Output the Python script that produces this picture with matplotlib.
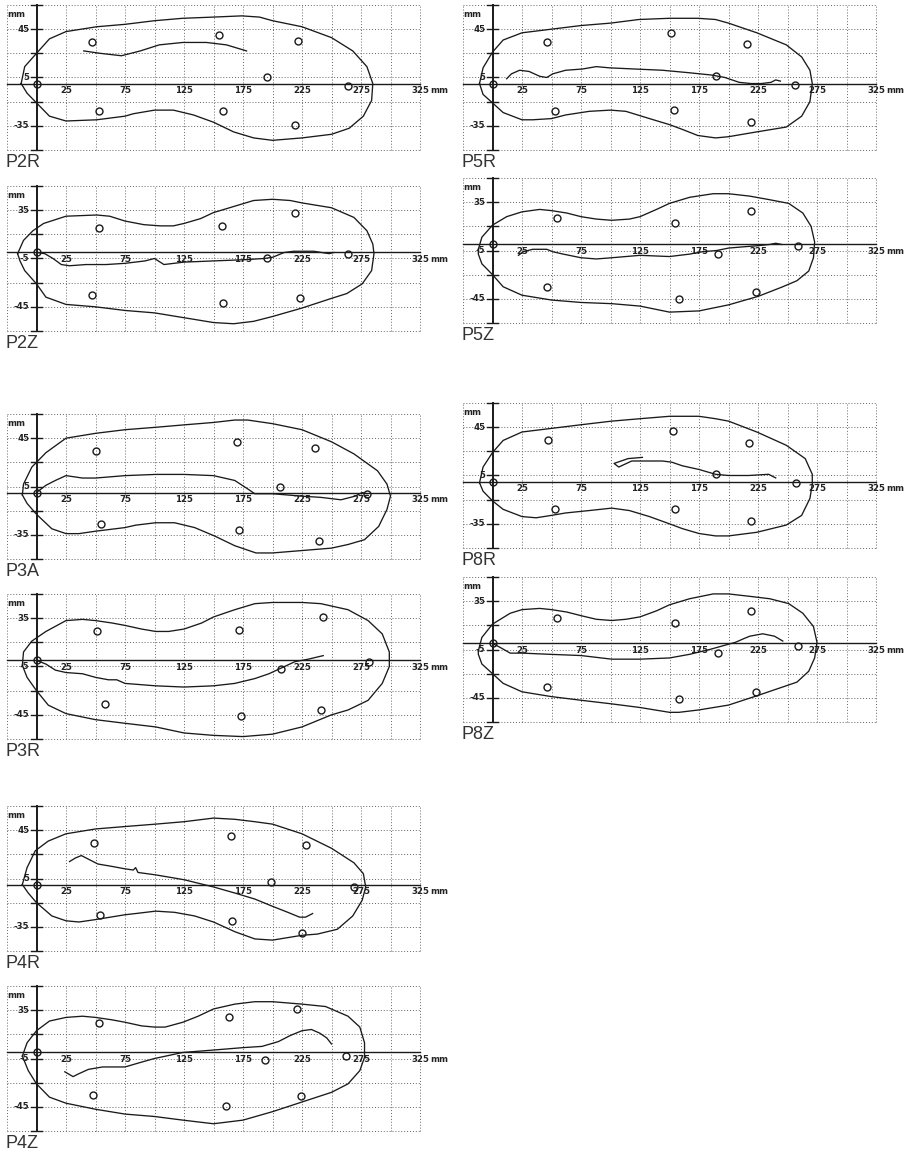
import matplotlib
matplotlib.use('Agg')
import matplotlib.pyplot as plt

W, H = 914, 1151

# ---------------- data (mm) ----------------
X_TICKS = [25, 75, 125, 175, 225, 275, 325]
R_YTICKS = [45, 5, -35]
Z_YTICKS = [35, -5, -45]
R_YGRID = [65, 45, 25, 5, -15, -35, -55]
Z_YGRID = [55, 35, 15, -5, -25, -45, -65]

# P2R
P2R_OUT_X = [-13, -10, 0, 11, 25, 51, 75, 100, 124, 150, 174, 189, 200, 225, 250, 268, 280, 285, 284, 277, 265, 250, 225, 200, 184, 167, 150, 133, 116, 100, 82, 75, 51, 25, 11, 0, -8, -13]
P2R_OUT_Y = [0, 14, 25, 37, 43, 47, 49, 52, 54, 55, 56, 55, 52, 47, 38, 27, 14, 0, -14, -27, -37, -42, -45, -47, -45, -40, -32, -26, -22, -22, -25, -27, -30, -31, -27, -16, -8, 0]
P2R_COP_X = [40, 54, 72, 88, 104, 124, 144, 161, 178]
P2R_COP_Y = [27, 25, 23, 27, 32, 34, 34, 32, 27]
P2R_SEN_X = [0, 47, 155, 222, 195, 264, 53, 158, 219]
P2R_SEN_Y = [0, 34, 40, 35, 5, -2, -23, -23, -34]

# P2Z
P2Z_OUT_X = [-16, -11, -3, 6, 25, 51, 62, 75, 91, 105, 116, 125, 139, 150, 167, 184, 200, 215, 225, 250, 269, 280, 285, 286, 284, 276, 263, 250, 225, 200, 184, 167, 150, 125, 100, 75, 50, 25, 8, 0, -10, -14, -16]
P2Z_OUT_Y = [-1, 10, 18, 24, 30, 31, 30, 26, 23, 22, 22, 24, 28, 33, 38, 43, 44, 43, 41, 37, 29, 18, 7, -1, -15, -26, -34, -38, -46, -53, -57, -59, -58, -54, -50, -48, -45, -43, -37, -26, -15, -7, -1]
P2Z_COP_X = [0, 7, 14, 21, 28, 42, 59, 75, 92, 100, 108, 125, 150, 176, 193, 200, 210, 218, 235, 248, 252]
P2Z_COP_Y = [0, -1, -5, -10, -11, -10, -10, -9, -7, -5, -10, -8, -7, -6, -5, -4, 0, 1, 1, -1, 0]
P2Z_SEN_X = [0, 53, 157, 219, 195, 264, 47, 158, 223]
P2Z_SEN_Y = [0, 20, 22, 33, -5, -1, -35, -42, -38]

# P3A
P3A_OUT_X = [-12, -11, -4, 8, 25, 50, 75, 101, 125, 150, 168, 179, 200, 225, 250, 269, 289, 297, 300, 297, 290, 278, 264, 250, 225, 200, 186, 168, 151, 134, 117, 101, 84, 75, 50, 36, 25, 13, 0, -8, -12]
P3A_OUT_Y = [-2, 7, 21, 33, 45, 49, 52, 54, 56, 58, 60, 60, 57, 52, 42, 32, 18, 7, -3, -14, -28, -39, -43, -46, -48, -50, -50, -44, -36, -29, -25, -25, -27, -29, -32, -34, -34, -30, -18, -9, -2]
P3A_COP_X = [0, 8, 16, 25, 39, 50, 75, 101, 125, 150, 168, 179, 185, 200, 225, 241, 258, 270, 276, 280]
P3A_COP_Y = [0, 6, 10, 14, 12, 12, 14, 15, 15, 14, 10, 3, -1, -1, -3, -4, -6, -3, 0, -1]
P3A_SEN_X = [0, 50, 170, 236, 206, 280, 55, 172, 239]
P3A_SEN_Y = [0, 34, 42, 37, 5, -1, -26, -31, -40]

# P3R
P3R_OUT_X = [-12, -11, -4, 8, 25, 39, 50, 64, 75, 89, 101, 112, 125, 140, 150, 168, 185, 200, 225, 241, 264, 281, 293, 299, 299, 293, 281, 264, 250, 225, 200, 175, 150, 125, 101, 75, 50, 25, 10, 0, -8, -12]
P3R_OUT_Y = [-4, 7, 16, 24, 33, 34, 33, 31, 29, 26, 24, 24, 26, 31, 36, 42, 47, 48, 48, 47, 42, 33, 22, 7, -5, -19, -33, -41, -45, -55, -61, -63, -62, -60, -55, -52, -49, -44, -37, -25, -14, -4]
P3R_COP_X = [0, 8, 16, 25, 39, 50, 61, 68, 75, 101, 125, 150, 168, 185, 197, 208, 219, 230, 243]
P3R_COP_Y = [0, -3, -8, -10, -11, -14, -16, -16, -19, -21, -22, -21, -19, -15, -11, -6, -1, 1, 4]
P3R_SEN_X = [0, 51, 172, 243, 207, 282, 58, 173, 241]
P3R_SEN_Y = [0, 24, 25, 36, -7, -1, -36, -46, -41]

# P4R
P4R_OUT_X = [-12, -8, -1, 10, 25, 50, 75, 101, 125, 150, 168, 185, 200, 225, 250, 269, 277, 279, 276, 268, 255, 238, 225, 200, 185, 168, 150, 134, 117, 101, 84, 75, 50, 36, 25, 13, 0, -7, -12]
P4R_OUT_Y = [0, 14, 28, 36, 42, 46, 48, 50, 52, 55, 54, 52, 50, 42, 30, 18, 9, -2, -13, -26, -37, -41, -42, -46, -45, -39, -31, -26, -23, -22, -24, -25, -29, -31, -30, -26, -15, -7, 0]
P4R_COP_X = [28, 33, 38, 44, 52, 64, 75, 82, 84, 86, 101, 125, 150, 168, 185, 200, 213, 223, 228, 234]
P4R_COP_Y = [19, 22, 24, 21, 17, 15, 13, 12, 14, 10, 8, 4, -2, -7, -12, -18, -23, -27, -27, -24]
P4R_SEN_X = [0, 49, 165, 228, 199, 269, 54, 166, 225]
P4R_SEN_Y = [0, 34, 40, 33, 2, -2, -25, -30, -40]

# P4Z
P4Z_OUT_X = [-12, -8, 0, 11, 25, 39, 50, 64, 75, 89, 100, 109, 124, 137, 150, 168, 185, 200, 225, 245, 264, 274, 278, 278, 274, 264, 250, 225, 200, 175, 150, 124, 100, 75, 50, 25, 11, 0, -7, -12]
P4Z_OUT_Y = [-3, 8, 18, 26, 29, 30, 29, 27, 25, 22, 21, 21, 25, 30, 36, 40, 42, 42, 40, 38, 30, 21, 8, -4, -15, -26, -33, -41, -49, -56, -59, -56, -53, -51, -47, -42, -37, -26, -15, -3]
P4Z_COP_X = [24, 31, 35, 44, 56, 75, 89, 100, 124, 150, 175, 191, 205, 215, 225, 233, 240, 246, 250]
P4Z_COP_Y = [-16, -20, -18, -14, -12, -12, -8, -5, 0, 2, 4, 5, 9, 14, 18, 19, 16, 12, 7]
P4Z_SEN_X = [0, 53, 163, 221, 194, 262, 48, 161, 224]
P4Z_SEN_Y = [0, 24, 29, 36, -6, -3, -35, -44, -36]

# P5R
P5R_OUT_X = [-11, -8, 0, 9, 25, 50, 75, 100, 124, 150, 174, 189, 200, 224, 249, 262, 269, 271, 269, 262, 249, 224, 200, 189, 174, 161, 150, 133, 113, 100, 82, 62, 50, 34, 25, 9, 0, -8, -11]
P5R_OUT_Y = [0, 13, 26, 36, 42, 45, 48, 50, 53, 54, 54, 53, 50, 42, 32, 22, 11, 0, -15, -27, -36, -40, -44, -45, -43, -38, -34, -29, -23, -22, -23, -26, -29, -30, -30, -24, -16, -9, 0]
P5R_COP_X = [12, 16, 23, 31, 40, 46, 51, 62, 76, 88, 99, 121, 144, 166, 186, 197, 209, 219, 228, 236, 240, 244]
P5R_COP_Y = [4, 8, 11, 10, 6, 5, 8, 11, 12, 14, 13, 12, 11, 9, 7, 5, 1, 0, 0, 1, 3, 2]
P5R_SEN_X = [0, 46, 151, 216, 189, 256, 53, 154, 219]
P5R_SEN_Y = [0, 34, 42, 33, 6, -1, -23, -22, -32]

# P5Z
P5Z_OUT_X = [-12, -9, 0, 12, 25, 40, 50, 63, 75, 88, 101, 116, 125, 139, 150, 167, 187, 200, 218, 235, 251, 263, 270, 273, 272, 268, 258, 246, 225, 200, 175, 150, 125, 101, 75, 50, 25, 9, 0, -9, -12, -12]
P5Z_OUT_Y = [-4, 6, 16, 23, 27, 29, 28, 26, 23, 21, 20, 21, 23, 29, 34, 39, 42, 42, 40, 37, 34, 26, 15, 2, -11, -22, -30, -35, -43, -50, -55, -56, -51, -49, -48, -46, -42, -35, -25, -16, -8, -4]
P5Z_COP_X = [22, 26, 34, 46, 51, 60, 75, 88, 101, 125, 150, 167, 178, 190, 200, 212, 225, 235, 240, 245]
P5Z_COP_Y = [-9, -6, -4, -4, -6, -8, -11, -12, -11, -9, -10, -8, -6, -5, -3, -2, -1, 0, 1, 0]
P5Z_SEN_X = [0, 55, 155, 219, 191, 259, 46, 158, 223]
P5Z_SEN_Y = [0, 22, 18, 28, -8, -1, -35, -45, -39]

# P8R
P8R_OUT_X = [-11, -8, 0, 9, 25, 50, 75, 101, 125, 150, 175, 189, 200, 224, 249, 265, 271, 271, 269, 262, 249, 224, 200, 189, 175, 161, 150, 133, 116, 101, 82, 62, 50, 37, 25, 9, 0, -8, -11]
P8R_OUT_Y = [-1, 12, 24, 34, 41, 44, 47, 50, 52, 54, 54, 52, 50, 41, 30, 19, 6, -2, -14, -28, -36, -42, -45, -45, -43, -39, -35, -29, -24, -22, -24, -26, -28, -30, -29, -23, -16, -8, -1]
P8R_COP_X = [127, 115, 103, 107, 118, 129, 144, 152, 161, 175, 189, 200, 217, 234, 240]
P8R_COP_Y = [20, 19, 15, 12, 17, 17, 17, 16, 13, 10, 6, 5, 5, 6, 3]
P8R_SEN_X = [0, 47, 153, 217, 189, 257, 53, 155, 219]
P8R_SEN_Y = [0, 34, 42, 32, 6, -1, -23, -23, -33]

# P8Z
P8Z_OUT_X = [-12, -9, 0, 15, 25, 40, 50, 63, 75, 88, 101, 113, 125, 139, 150, 167, 187, 200, 218, 235, 251, 263, 272, 275, 273, 268, 258, 246, 225, 200, 175, 158, 150, 125, 101, 75, 50, 25, 9, 0, -9, -12, -12]
P8Z_OUT_Y = [-6, 5, 16, 25, 28, 29, 28, 26, 23, 20, 19, 20, 22, 27, 32, 37, 41, 41, 39, 37, 33, 25, 14, 1, -12, -23, -32, -36, -43, -51, -55, -57, -57, -53, -50, -47, -44, -40, -33, -25, -17, -9, -6]
P8Z_COP_X = [0, 6, 15, 25, 49, 75, 101, 125, 150, 167, 184, 195, 206, 213, 218, 229, 239, 246]
P8Z_COP_Y = [0, -3, -8, -8, -9, -10, -13, -13, -12, -9, -5, -2, 1, 4, 6, 8, 6, 2]
P8Z_SEN_X = [0, 55, 155, 219, 191, 259, 46, 158, 223]
P8Z_SEN_Y = [0, 21, 17, 27, -8, -2, -36, -46, -40]

# panel table: name, kind, left px, top px, data
PANELS = [
    ('P2R', 'R', 7, 5, P2R_OUT_X, P2R_OUT_Y, P2R_COP_X, P2R_COP_Y, P2R_SEN_X, P2R_SEN_Y),
    ('P2Z', 'Z', 7, 186, P2Z_OUT_X, P2Z_OUT_Y, P2Z_COP_X, P2Z_COP_Y, P2Z_SEN_X, P2Z_SEN_Y),
    ('P3A', 'R', 7, 414, P3A_OUT_X, P3A_OUT_Y, P3A_COP_X, P3A_COP_Y, P3A_SEN_X, P3A_SEN_Y),
    ('P3R', 'Z', 7, 594, P3R_OUT_X, P3R_OUT_Y, P3R_COP_X, P3R_COP_Y, P3R_SEN_X, P3R_SEN_Y),
    ('P4R', 'R', 7, 806, P4R_OUT_X, P4R_OUT_Y, P4R_COP_X, P4R_COP_Y, P4R_SEN_X, P4R_SEN_Y),
    ('P4Z', 'Z', 7, 986, P4Z_OUT_X, P4Z_OUT_Y, P4Z_COP_X, P4Z_COP_Y, P4Z_SEN_X, P4Z_SEN_Y),
    ('P5R', 'R', 463, 5, P5R_OUT_X, P5R_OUT_Y, P5R_COP_X, P5R_COP_Y, P5R_SEN_X, P5R_SEN_Y),
    ('P5Z', 'Z', 463, 178, P5Z_OUT_X, P5Z_OUT_Y, P5Z_COP_X, P5Z_COP_Y, P5Z_SEN_X, P5Z_SEN_Y),
    ('P8R', 'R', 463, 403, P8R_OUT_X, P8R_OUT_Y, P8R_COP_X, P8R_COP_Y, P8R_SEN_X, P8R_SEN_Y),
    ('P8Z', 'Z', 463, 577, P8Z_OUT_X, P8Z_OUT_Y, P8Z_COP_X, P8Z_COP_Y, P8Z_SEN_X, P8Z_SEN_Y),
]

fig = plt.figure(figsize=(W / 100, H / 100), dpi=100)
PW, PH = 413, 145
INK = '#1a1a1a'
tick_font = dict(family='DejaVu Sans', fontsize=6.2, fontweight='bold', color='#222')


def draw(ax, name, kind, ox, oy, cx, cy, sx, sy):
    if kind == 'R':
        y0, y1, yt, yg = -55, 65, R_YTICKS, R_YGRID
    else:
        y0, y1, yt, yg = -65, 55, Z_YTICKS, Z_YGRID
    ax.set_xlim(-25, 325)
    ax.set_ylim(y0, y1)
    ax.axis('off')
    dot = dict(color='#666', lw=0.7, ls=(0, (1, 2)), clip_on=False, zorder=1)
    for x in range(-25, 326, 25):
        if x == 0:
            continue
        ax.plot([x, x], [y0, y1], **dot)
    for y in yg:
        ax.plot([-25, 325], [y, y], **dot)
    # axes lines
    ax.plot([-25, 325], [0, 0], color=INK, lw=1.0, zorder=2, clip_on=False)
    ax.plot([0, 0], [y0, y1], color=INK, lw=1.4, zorder=2, clip_on=False)
    for y in yg:
        ax.plot([-5, 5], [y, y], color=INK, lw=1.0, zorder=2, clip_on=False)
    # tick labels
    for x in X_TICKS:
        ax.text(x, -5.5, str(x), ha='center', va='center', zorder=3, **tick_font)
    ax.text(341, -5.5, 'mm', ha='center', va='center', clip_on=False, **tick_font)
    for y in yt:
        ax.text(-6, y, str(y), ha='right', va='center', **tick_font)
    ax.text(-17, y1 - 8, 'mm', ha='center', va='center', **tick_font)
    # foot outline, COP path, sensors
    ax.plot(ox, oy, color=INK, lw=0.95, zorder=4, clip_on=False)
    ax.plot(cx, cy, color=INK, lw=0.95, zorder=4)
    ax.plot(sx, sy, ls='none', marker='o', ms=5.0, mfc='none', mec=INK, mew=1.0, zorder=5)
    ax.text(-0.003, -0.025, name, transform=ax.transAxes, ha='left', va='top',
            fontsize=13, family='Liberation Sans', color='#333')


for (name, kind, left, top, ox, oy, cx, cy, sx, sy) in PANELS:
    ax = fig.add_axes([left / W, 1 - (top + PH) / H, PW / W, PH / H])
    draw(ax, name, kind, ox, oy, cx, cy, sx, sy)

fig.savefig('out.png', dpi=100, facecolor='white')
